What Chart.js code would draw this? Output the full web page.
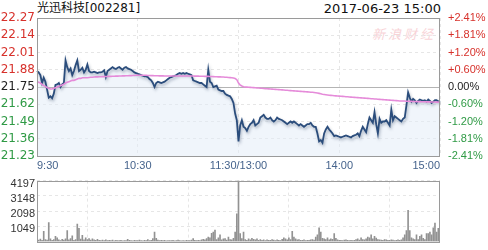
<!DOCTYPE html>
<html>
<head>
<meta charset="utf-8">
<script src="https://cdn.jsdelivr.net/npm/chart.js@4.4.1/dist/chart.umd.min.js"></script>
<style>
    body { margin: 0; background: #fff; }
    #wrap { position: relative; width: 488px; height: 250px; overflow: hidden; }
    .hdr { position: absolute; top: 1px; font: 12px 'DejaVu Sans', 'Noto Sans CJK SC', sans-serif; color: #111; line-height: 15px; white-space: nowrap; }
    .wm { position: absolute; left: 372px; top: 24px; font: italic 13px 'Noto Sans CJK SC', sans-serif; color: #f8d3d7; letter-spacing: 3px; }
    canvas { position: absolute; left: 0; }
</style>
</head>
<body>
<div id="wrap">
    <div class="hdr" style="left:37px">光迅科技[002281]</div>
    <div class="hdr" style="right:47px;font-size:13px">2017-06-23 15:00</div>
    <div class="wm">新浪财经</div>
    <canvas id="priceChart" width="488" height="172" style="top:0"></canvas>
    <canvas id="volChart" width="488" height="78" style="top:172px"></canvas>
</div>
<script>
/* ── Data ─────────────────────────────────────────────────── */
const PREV_CLOSE = 21.75;
const PRICE_TICKS = [22.27, 22.14, 22.01, 21.88, 21.75, 21.62, 21.49, 21.36, 21.23];
const PCT_TICKS = ['+2.41%', '+1.81%', '+1.20%', '+0.60%', '0.00%', '-0.60%', '-1.20%', '-1.81%', '-2.41%'];
const TIME_TICK_POS = [0, 60, 120, 180, 240];
const TIME_TICK_LABELS = ['9:30', '10:30', '11:30/13:00', '14:00', '15:00'];
const VOL_TICKS = [4197, 3148, 2098, 1049];

// one entry per minute, 9:30 .. 11:30 then 13:01 .. 15:00
const PRICE = [
    21.87, 21.86, 21.84, 21.78, 21.82, 21.79, 21.73, 21.67, 21.68, 21.665,
    21.70, 21.765, 21.77, 21.78, 21.75, 21.77, 21.78, 21.95, 21.90, 21.87,
    21.89, 21.84, 21.87, 21.915, 21.95, 21.87, 21.88, 21.895, 21.86, 21.88,
    21.92, 21.87, 21.86, 21.86, 21.865, 21.86, 21.855, 21.86, 21.86, 21.865,
    21.875, 21.825, 21.87, 21.88, 21.89, 21.90, 21.89, 21.885, 21.895, 21.90,
    21.89, 21.88, 21.895, 21.90, 21.89, 21.885, 21.88, 21.87, 21.86, 21.855,
    21.85, 21.845, 21.84, 21.835, 21.83, 21.83, 21.825, 21.81, 21.80, 21.78,
    21.75, 21.78, 21.79, 21.785, 21.78, 21.785, 21.79, 21.80, 21.81, 21.82,
    21.825, 21.83, 21.835, 21.84, 21.85, 21.855, 21.85, 21.855, 21.85, 21.855,
    21.85, 21.845, 21.84, 21.80, 21.795, 21.79, 21.785, 21.78, 21.78, 21.77,
    21.76, 21.75, 21.88, 21.79, 21.78, 21.75, 21.755, 21.76, 21.73, 21.725,
    21.72, 21.72, 21.70, 21.69, 21.685, 21.68, 21.66, 21.63, 21.55, 21.50,
    21.34, 21.46, 21.50, 21.45, 21.44, 21.42, 21.45, 21.47, 21.48, 21.50,
    21.46, 21.47, 21.48, 21.52, 21.53, 21.54, 21.52, 21.51, 21.51, 21.52,
    21.50, 21.49, 21.50, 21.52, 21.51, 21.505, 21.50, 21.49, 21.48, 21.47,
    21.48, 21.49, 21.48, 21.49, 21.48, 21.47, 21.46, 21.47, 21.46, 21.45,
    21.46, 21.47, 21.47, 21.48, 21.46, 21.45, 21.45, 21.40, 21.34, 21.35,
    21.33, 21.40, 21.43, 21.45, 21.43, 21.415, 21.40, 21.38, 21.385, 21.38,
    21.375, 21.37, 21.375, 21.38, 21.385, 21.38, 21.375, 21.37, 21.38, 21.385,
    21.39, 21.40, 21.38, 21.42, 21.45, 21.43, 21.41, 21.47, 21.52, 21.50,
    21.48, 21.56, 21.47, 21.40, 21.51, 21.48, 21.49, 21.49, 21.50, 21.48,
    21.46, 21.58, 21.50, 21.53, 21.52, 21.51, 21.50, 21.49, 21.51, 21.52,
    21.61, 21.71, 21.67, 21.64, 21.66, 21.65, 21.63, 21.645, 21.655, 21.65,
    21.645, 21.65, 21.64, 21.655, 21.645, 21.63, 21.64, 21.65, 21.65, 21.64,
    21.645
];

const AVG_PRICE = [
    21.79, 21.785, 21.78, 21.77, 21.76, 21.755, 21.745, 21.74, 21.735, 21.735,
    21.74, 21.745, 21.75, 21.755, 21.76, 21.765, 21.77, 21.78, 21.785, 21.79,
    21.795, 21.80, 21.80, 21.805, 21.81, 21.815, 21.815, 21.82, 21.82, 21.82,
    21.82, 21.822, 21.823, 21.824, 21.825, 21.826, 21.826, 21.827, 21.827, 21.828,
    21.828, 21.829, 21.829, 21.83, 21.83, 21.831, 21.831, 21.832, 21.832, 21.833,
    21.833, 21.834, 21.834, 21.835, 21.835, 21.836, 21.836, 21.837, 21.837, 21.838,
    21.838, 21.838, 21.838, 21.838, 21.838, 21.838, 21.837, 21.837, 21.836, 21.836,
    21.835, 21.835, 21.835, 21.834, 21.834, 21.834, 21.833, 21.833, 21.833, 21.833,
    21.833, 21.833, 21.833, 21.833, 21.833, 21.833, 21.833, 21.833, 21.833, 21.833,
    21.833, 21.833, 21.833, 21.833, 21.832, 21.832, 21.832, 21.831, 21.831, 21.831,
    21.83, 21.83, 21.83, 21.829, 21.829, 21.828, 21.827, 21.827, 21.826, 21.826,
    21.825, 21.825, 21.824, 21.823, 21.822, 21.821, 21.82, 21.818, 21.814, 21.805,
    21.78, 21.765, 21.758, 21.752, 21.75, 21.749, 21.748, 21.747, 21.746, 21.745,
    21.744, 21.743, 21.742, 21.741, 21.74, 21.739, 21.738, 21.737, 21.736, 21.735,
    21.734, 21.733, 21.732, 21.731, 21.73, 21.729, 21.728, 21.727, 21.726, 21.725,
    21.724, 21.723, 21.722, 21.721, 21.72, 21.719, 21.718, 21.717, 21.716, 21.715,
    21.714, 21.713, 21.712, 21.711, 21.71, 21.709, 21.707, 21.705, 21.702, 21.699,
    21.696, 21.694, 21.692, 21.69, 21.688, 21.687, 21.686, 21.684, 21.683, 21.682,
    21.681, 21.68, 21.679, 21.678, 21.677, 21.676, 21.675, 21.674, 21.673, 21.672,
    21.671, 21.67, 21.669, 21.668, 21.667, 21.666, 21.665, 21.664, 21.663, 21.662,
    21.661, 21.66, 21.659, 21.658, 21.657, 21.656, 21.655, 21.654, 21.653, 21.652,
    21.651, 21.65, 21.649, 21.648, 21.647, 21.646, 21.645, 21.645, 21.644, 21.644,
    21.643, 21.643, 21.642, 21.642, 21.641, 21.641, 21.64, 21.64, 21.64, 21.639,
    21.639, 21.639, 21.638, 21.638, 21.638, 21.637, 21.637, 21.637, 21.636, 21.636,
    21.636
];

const VOLUME = [
    300, 90, 160, 80, 700, 120, 90, 1300, 180, 70,
    120, 350, 250, 100, 60, 140, 90, 180, 740, 110,
    200, 380, 80, 120, 1200, 900, 160, 420, 100, 250,
    120, 200, 90, 180, 110, 80, 150, 70, 60, 90,
    60, 100, 50, 70, 60, 90, 40, 70, 60, 50,
    80, 40, 60, 50, 150, 70, 60, 40, 80, 50,
    60, 90, 50, 40, 70, 60, 120, 50, 70, 200,
    650, 220, 90, 60, 70, 50, 80, 40, 60, 60,
    50, 70, 40, 60, 90, 50, 40, 60, 40, 70,
    60, 50, 90, 200, 70, 50, 80, 60, 100, 150,
    110, 200, 300, 250, 550, 650, 780, 120, 250, 450,
    100, 180, 200, 90, 300, 120, 100, 220, 640, 1900,
    4197, 540, 200, 640, 120, 80, 180, 100, 220, 140,
    100, 180, 80, 130, 70, 100, 60, 110, 80, 70,
    130, 90, 60, 100, 70, 50, 150, 250, 180, 100,
    250, 130, 700, 300, 180, 100, 130, 80, 70, 110,
    60, 80, 70, 100, 130, 90, 300, 450, 930, 640,
    220, 180, 130, 250, 100, 180, 150, 545, 220, 100,
    80, 70, 60, 90, 110, 70, 60, 80, 60, 80,
    130, 180, 90, 250, 130, 100, 180, 300, 250, 450,
    180, 350, 230, 130, 100, 90, 70, 130, 100, 80,
    70, 110, 90, 60, 80, 100, 70, 110, 250, 450,
    740, 2140, 750, 250, 180, 130, 450, 130, 350, 450,
    220, 130, 540, 545, 650, 450, 930, 1260, 640, 900,
    1000
];

const MINUTES = PRICE.map((_, i) => i);

/* ── Styling ─────────────────────────────────────────────── */
const UP_RED = '#d7312b';
const DOWN_GREEN = '#2f9a45';
const GRID = '#e6e6e6';
const FRAME = '#9a9a9a';
const AXIS_FONT = { family: 'Liberation Sans, Arial, sans-serif', size: 11 };

function tickColor(v) {
    if (Math.abs(v - PREV_CLOSE) < 1e-6) return '#222';
    return v > PREV_CLOSE ? UP_RED : DOWN_GREEN;
}

// box round plot area
const framePlugin = {
    id: 'frame',
    afterDraw(chart) {
        const { ctx, chartArea: a } = chart;
        ctx.save();
        ctx.strokeStyle = FRAME;
        ctx.lineWidth = 1;
        ctx.strokeRect(Math.round(a.left) + 0.5, Math.round(a.top) + 0.5,
            Math.round(a.right - a.left) - 1, Math.round(a.bottom - a.top));
        ctx.restore();
    },
};

// solid line at previous close + soft shadow under price line
const priceDecor = {
    id: 'priceDecor',
    beforeDatasetsDraw(chart) {
        const { ctx, chartArea: a } = chart;
        const y = Math.round(chart.scales.y.getPixelForValue(PREV_CLOSE)) + 0.5;
        ctx.save();
        ctx.strokeStyle = '#b4b4b4';
        ctx.lineWidth = 1;
        ctx.beginPath();
        ctx.moveTo(a.left, y);
        ctx.lineTo(a.right, y);
        ctx.stroke();
        ctx.restore();
    },
    beforeDatasetDraw(chart, args) {
        if (args.meta.label !== 'price') return;
        chart.ctx.save();
        chart.ctx.shadowColor = 'rgba(30,50,80,0.35)';
        chart.ctx.shadowBlur = 3;
        chart.ctx.shadowOffsetX = 1;
        chart.ctx.shadowOffsetY = 2;
    },
    afterDatasetDraw(chart, args) {
        if (args.meta.label !== 'price') return;
        chart.ctx.restore();
    },
};

const timeAxis = (showLabels, height) => ({
    type: 'category',
    offset: false,
    afterBuildTicks: s => { s.ticks = TIME_TICK_POS.map(v => ({ value: v })); },
    afterFit: s => { s.height = height; },
    grid: { color: GRID, drawTicks: false },
    border: { display: false, dash: [3, 3] },
    ticks: {
        display: showLabels,
        autoSkip: false,
        maxRotation: 0,
        align: 'inner',
        padding: 3,
        color: '#45638c',
        font: AXIS_FONT,
        callback: (v, i) => TIME_TICK_LABELS[i],
    },
});

/* ── Price chart ─────────────────────────────────────────── */
new Chart(document.getElementById('priceChart'), {
    type: 'line',
    data: {
        labels: MINUTES,
        datasets: [
            {
                label: 'avg',
                data: AVG_PRICE,
                borderColor: '#e58bd9',
                borderWidth: 1.6,
                pointRadius: 0,
                tension: 0,
                fill: false,
                order: 0,
            },
            {
                label: 'price',
                data: PRICE,
                borderColor: '#2b4d7c',
                borderWidth: 1.8,
                pointRadius: 0,
                tension: 0,
                fill: 'start',
                backgroundColor: 'rgba(226,236,248,0.5)',
                order: 1,
            },
        ],
    },
    options: {
        responsive: false,
        animation: false,
        layout: { padding: { top: 18, left: 0, right: 0, bottom: 0 } },
        plugins: { legend: { display: false }, tooltip: { enabled: false } },
        scales: {
            x: timeAxis(true, 16),
            y: {
                position: 'left',
                min: 21.23,
                max: 22.27,
                afterBuildTicks: s => { s.ticks = PRICE_TICKS.map(v => ({ value: v })); },
                afterFit: s => { s.width = 37; },
                grid: {
                    drawTicks: false,
                    color: c => (c.tick && Math.abs(c.tick.value - PREV_CLOSE) < 1e-6) ? 'transparent' : GRID,
                },
                border: { display: false, dash: [3, 3] },
                ticks: {
                    autoSkip: false,
                    padding: 2,
                    font: { family: 'DejaVu Sans, sans-serif', size: 12 },
                    color: c => tickColor(c.tick.value),
                    callback: v => v.toFixed(2),
                },
            },
            y1: {
                position: 'right',
                min: 21.23,
                max: 22.27,
                afterBuildTicks: s => { s.ticks = PRICE_TICKS.map(v => ({ value: v })); },
                afterFit: s => { s.width = 48; },
                grid: { display: false, drawTicks: false },
                border: { display: false },
                ticks: {
                    autoSkip: false,
                    padding: 8,
                    font: AXIS_FONT,
                    color: c => tickColor(c.tick.value),
                    callback: (v, i) => PCT_TICKS[i],
                },
            },
        },
    },
    plugins: [priceDecor, framePlugin],
});

/* ── Volume chart ────────────────────────────────────────── */
new Chart(document.getElementById('volChart'), {
    type: 'bar',
    data: {
        labels: MINUTES,
        datasets: [{
            label: 'volume',
            data: VOLUME,
            backgroundColor: '#929292',
            barThickness: 1,
            borderWidth: 0,
        }],
    },
    options: {
        responsive: false,
        animation: false,
        layout: { padding: { top: 2, left: 0, right: 48, bottom: 0 } },
        plugins: { legend: { display: false }, tooltip: { enabled: false } },
        scales: {
            x: timeAxis(false, 4),
            y: {
                position: 'left',
                min: 0,
                max: 4197,
                afterBuildTicks: s => { s.ticks = VOL_TICKS.map(v => ({ value: v })); },
                afterFit: s => { s.width = 37; },
                grid: { color: GRID, drawTicks: false },
                border: { display: false, dash: [3, 3] },
                ticks: {
                    autoSkip: false,
                    padding: 2,
                    labelOffset: 3,
                    color: '#333',
                    font: AXIS_FONT,
                    callback: v => String(v),
                },
            },
        },
    },
    plugins: [framePlugin],
});
</script>
</body>
</html>
